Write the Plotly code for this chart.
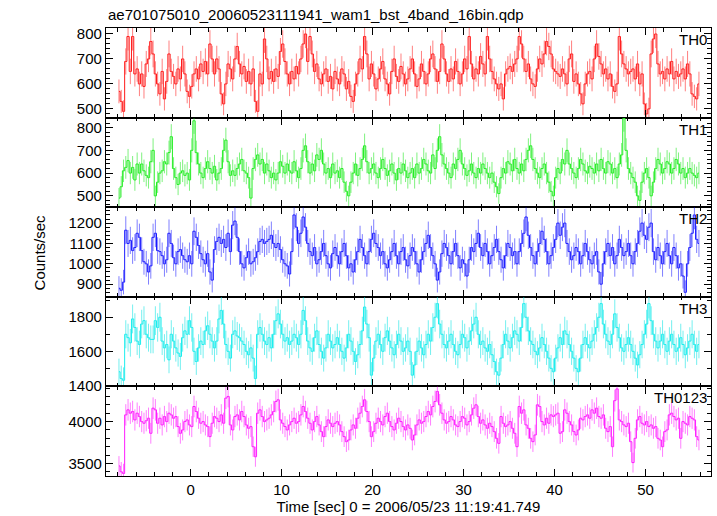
import numpy as np
import plotly.graph_objects as go
from plotly.subplots import make_subplots

# ---- data (0.25 s bins, counts/sec) ----
bin_width = 0.25
t_start = -8.0

th0 = [570,530,490,690,790,650,790,640,660,600,640,590,680,700,770,720,
       640,600,560,650,540,610,720,650,630,600,660,620,700,640,570,550,
       590,640,660,620,680,650,690,640,760,700,640,700,660,560,520,600,
       680,660,620,700,750,680,640,670,610,650,600,660,530,490,640,600,
       780,700,620,650,610,660,630,730,760,690,640,600,650,620,670,640,
       700,760,800,690,790,720,650,680,620,600,640,660,610,630,580,650,
       620,600,660,640,580,610,550,530,600,640,700,660,790,720,620,680,
       640,580,620,660,690,620,600,560,650,700,630,610,670,640,600,620,
       660,700,640,590,620,680,650,600,640,700,720,660,610,650,760,700,
       640,610,660,620,690,650,600,640,700,660,790,680,620,660,640,710,
       680,640,790,700,650,620,600,580,600,540,640,660,670,650,680,700,
       790,760,700,650,680,620,600,590,660,700,680,720,770,750,720,660,
       650,640,630,660,640,600,700,720,610,640,600,560,520,600,640,650,
       620,700,760,710,680,640,660,620,640,590,570,600,790,720,680,660,
       640,650,660,620,680,600,640,520,480,500,720,780,800,680,640,650,
       620,660,640,690,620,650,630,640,660,620,680,640,560,550,540,600]

th1 = [490,540,610,625,655,600,625,570,640,600,640,610,590,580,650,700,
       500,560,600,610,650,640,690,760,620,580,550,600,610,590,600,570,
       700,830,690,640,600,580,620,650,620,600,630,570,600,620,700,745,
       650,590,610,590,620,640,660,610,600,580,490,620,660,680,640,660,
       600,640,610,580,600,570,600,650,630,600,640,610,600,650,610,580,
       620,700,720,650,600,640,610,680,660,700,640,600,620,580,640,600,
       610,580,620,560,520,500,560,600,640,590,620,660,720,650,600,620,
       640,600,580,620,660,620,590,610,640,600,570,620,600,640,610,580,
       600,620,580,640,600,620,660,640,610,600,680,620,700,760,680,640,
       620,600,580,640,620,660,700,640,620,590,610,640,600,580,620,600,
       640,620,600,580,600,560,540,510,580,620,600,650,640,610,660,620,
       600,640,610,660,700,720,660,620,600,580,620,640,600,560,520,500,
       580,620,600,660,640,700,640,620,600,580,620,660,640,610,600,630,
       620,600,640,610,660,620,600,650,640,600,620,580,640,680,840,700,
       620,600,580,560,500,480,560,600,620,580,500,560,620,660,640,600,
       620,650,640,600,620,660,640,600,620,580,600,620,600,590,580,600]

th2 = [880,870,910,1165,1100,1115,1065,1080,1150,1130,1065,1010,1000,960,990,1130,
       1150,1065,1060,1040,1000,1020,1150,1100,1030,1000,1060,1070,1040,1020,1010,1040,
       1000,1160,1130,1090,1050,1020,1000,1050,960,920,1070,1110,1130,1100,1120,1080,
       1150,1060,1190,1210,1130,1060,1000,980,1030,1060,1000,1010,1030,1060,1110,1120,
       1100,1110,1120,1140,1100,1080,1100,1070,1020,1000,990,950,1060,1240,1180,1100,
       1150,1230,1180,1100,1060,1040,1080,1000,1020,1060,1100,1040,1000,980,1050,1080,
       1040,1000,1060,1100,1040,980,1000,960,1020,1060,1120,1080,1040,1000,1060,1120,
       1150,1100,1080,1040,1060,1000,980,1020,1060,1100,1040,1000,1060,1080,1020,990,
       1040,1080,1060,1000,960,1020,1060,1100,1140,1080,1040,1000,920,960,1050,1100,
       1080,1040,1000,1060,1100,1040,980,1020,1000,940,1020,1080,1060,1100,1150,1080,
       1040,1100,1060,1000,1040,1080,1120,1060,1020,980,1040,1100,1080,1040,1060,1000,
       1060,1100,1150,1230,1140,1080,1040,1000,1060,1100,1160,1120,1060,1000,1040,1080,
       1120,1200,1140,1180,1200,1100,1060,1020,1040,1080,1060,1000,1040,1100,1060,1020,
       1000,1040,1060,960,900,1000,1060,1100,1040,1080,1000,1040,1120,1080,1040,1060,
       1100,1040,1000,1060,1100,1160,1200,1140,1120,1180,1200,1060,1020,1080,1040,1000,
       1060,1100,1040,1000,1080,1040,980,1000,940,860,1000,1080,1150,1240,1120,1100]

th3 = [1480,1440,1430,1700,1680,1650,1790,1740,1660,1640,1760,1780,1700,1680,1670,1670,
       1780,1740,1800,1660,1620,1640,1550,1700,1660,1620,1590,1570,1680,1720,1700,1780,
       1740,1600,1540,1620,1660,1640,1720,1750,1700,1660,1620,1660,1790,1840,1760,1640,
       1600,1560,1700,1720,1690,1680,1660,1640,1600,1580,1620,1560,1440,1700,1740,1700,
       1660,1640,1680,1620,1700,1780,1820,1760,1700,1660,1680,1640,1660,1700,1680,1640,
       1700,1840,1780,1660,1620,1600,1680,1720,1640,1600,1560,1620,1700,1660,1620,1640,
       1680,1640,1600,1560,1620,1700,1660,1600,1540,1580,1640,1720,1860,1760,1680,1460,
       1560,1660,1700,1640,1600,1680,1720,1660,1620,1580,1640,1700,1660,1600,1620,1660,
       1600,1460,1520,1600,1660,1620,1580,1640,1700,1660,1740,1800,1880,1760,1700,1640,
       1620,1660,1700,1640,1600,1580,1640,1700,1680,1620,1660,1720,1760,1800,1700,1640,
       1660,1620,1600,1640,1580,1540,1480,1460,1560,1640,1700,1660,1620,1680,1720,1700,
       1660,1740,1880,1800,1720,1660,1640,1600,1580,1620,1680,1640,1600,1560,1500,1480,
       1560,1620,1680,1640,1720,1700,1640,1600,1560,1500,1480,1560,1640,1680,1640,1620,
       1660,1700,1740,1800,1880,1760,1700,1660,1640,1700,1820,1740,1680,1620,1600,1640,
       1680,1640,1600,1560,1520,1580,1640,1700,1760,1880,1780,1700,1660,1620,1660,1700,
       1640,1600,1660,1700,1640,1600,1620,1680,1640,1580,1620,1660,1700,1640,1600,1640]

th0123 = [3470,3400,3380,4080,4140,4100,4120,4020,4100,4060,4000,3980,4010,4040,3860,4160,
          4140,3980,4040,3960,4060,4000,4100,4080,4040,4060,3940,3860,3900,4000,4020,3960,
          3940,4180,4120,4040,3980,4000,3960,3940,3820,3980,4060,4040,4000,4080,3980,4280,
          4300,3960,3900,4060,4080,4020,4120,4060,3960,3920,3940,3700,3580,4100,4140,4060,
          4000,4020,4040,4080,4120,4240,4260,4020,3980,3940,3900,3960,4000,4040,3980,4000,
          4080,4180,4120,4040,3980,3900,4000,4060,3960,3880,3820,3940,4020,3980,3940,3980,
          4000,3960,3880,3820,3760,3780,3900,3960,3920,4040,4100,4180,4260,4120,4000,3820,
          3880,3980,4040,4000,3960,4060,4100,4000,3940,3900,3980,4040,4000,3940,3900,3960,
          3920,3780,3840,3960,4020,3980,4000,4060,4120,4080,4180,4240,4360,4200,4100,4020,
          3980,4000,4060,4020,3960,3940,4000,4060,4040,3960,4000,4080,4160,4200,4060,3980,
          4020,3960,3920,3980,3940,3880,3800,3740,4060,3980,3940,3960,4000,3920,3860,3700,
          4180,4100,4140,3960,3920,3800,3760,3840,4200,4180,4000,3960,4040,3980,4080,4060,
          4080,4100,3860,3880,4140,4100,4000,3960,3880,3840,3900,4040,4020,4060,4080,4040,
          4140,4100,4160,4060,4040,4080,3920,3880,3940,3700,4250,4390,4020,4000,3960,3940,
          3980,3760,3510,3800,4020,4060,3980,3960,4000,3940,3960,3920,3940,3800,3780,3700,
          3880,3900,4080,4100,4060,4020,4040,3800,4000,3980,3960,4060,4040,4020,3820,3780]

series_names = ["TH0", "TH1", "TH2", "TH3", "TH0123"]
series_values = [th0, th1, th2, th3, th0123]
colors = ["#ff1a1a", "#22ee22", "#1a1aff", "#1aeeee", "#ff1aff"]
err_colors = ["rgba(255,0,0,0.5)", "rgba(0,230,0,0.5)", "rgba(0,0,255,0.5)",
              "rgba(0,225,225,0.55)", "rgba(255,0,255,0.5)"]
y_ranges = [[465, 824], [450, 844], [838, 1278], [1394, 1920], [3350, 4420]]
y_dticks = [100, 100, 100, 200, 500]
y_minor = [20, 20, 20, 100, 100]
x_range = [-9.3, 57.2]

title_text = "ae701075010_20060523111941_wam1_bst_4band_16bin.qdp"
x_title = "Time [sec] 0 = 2006/05/23 11:19:41.749"
y_title = "Counts/sec"

FONT = "Liberation Sans, Arial, Helvetica, sans-serif"

fig = make_subplots(rows=5, cols=1, shared_xaxes=True, vertical_spacing=0)

for k, (name, vals) in enumerate(zip(series_names, series_values)):
    v = np.array(vals, dtype=float)
    t = t_start + bin_width * (np.arange(len(v)) + 0.5)
    err = np.sqrt(v * bin_width) / bin_width
    fig.add_trace(go.Scatter(
        x=t, y=v, mode="markers",
        marker=dict(size=1, color="rgba(0,0,0,0)"),
        error_y=dict(type="data", array=err, visible=True,
                     color=err_colors[k], thickness=1, width=0),
        showlegend=False, hoverinfo="skip"), row=k + 1, col=1)
    fig.add_trace(go.Scatter(
        x=t, y=v, mode="lines", line=dict(color=colors[k], width=1, shape="hvh"),
        showlegend=False, name=name), row=k + 1, col=1)
    fig.update_yaxes(range=y_ranges[k], dtick=y_dticks[k], row=k + 1, col=1,
                     ticks="inside", ticklen=7, tickwidth=1, tickcolor="black",
                     minor=dict(dtick=y_minor[k], ticks="inside", ticklen=3.5,
                                tickcolor="black", showgrid=False),
                     showline=True, linecolor="black", linewidth=1.3,
                     mirror="allticks", showgrid=False, zeroline=False,
                     tickfont=dict(family=FONT, size=15, color="black"))
    fig.update_xaxes(range=x_range, dtick=10, row=k + 1, col=1,
                     ticks="inside", ticklen=7, tickwidth=1, tickcolor="black",
                     minor=dict(dtick=2, ticks="inside", ticklen=3.5,
                                tickcolor="black", showgrid=False),
                     showline=True, linecolor="black", linewidth=1.3,
                     mirror="allticks", showgrid=False, zeroline=False,
                     showticklabels=(k == 4),
                     tickfont=dict(family=FONT, size=15, color="black"))
    ydom = fig.layout["yaxis" + ("" if k == 0 else str(k + 1))].domain
    fig.add_annotation(text=name, xref="paper", yref="paper", x=1, y=ydom[1],
                       xanchor="right", yanchor="top", xshift=-2, yshift=-1,
                       showarrow=False, font=dict(family=FONT, size=15, color="black"))

fig.update_xaxes(title=dict(text=x_title, standoff=2,
                            font=dict(family=FONT, size=15, color="black")), row=5, col=1)

fig.add_annotation(text=title_text, xref="paper", yref="paper", x=0, y=1,
                   xanchor="left", yanchor="bottom", yshift=3, showarrow=False,
                   font=dict(family=FONT, size=15, color="black"))
fig.add_annotation(text=y_title, xref="paper", yref="paper", x=-0.11, y=0.5,
                   xanchor="center", yanchor="middle", textangle=-90, showarrow=False,
                   font=dict(family=FONT, size=15, color="black"))

fig.update_layout(width=717, height=516,
                  margin=dict(l=106, r=6, t=28, b=40),
                  plot_bgcolor="white", paper_bgcolor="white")

fig.write_html("out.html", config={"displayModeBar": False},
               post_script="document.body.style.margin='0';document.body.style.padding='0';")
